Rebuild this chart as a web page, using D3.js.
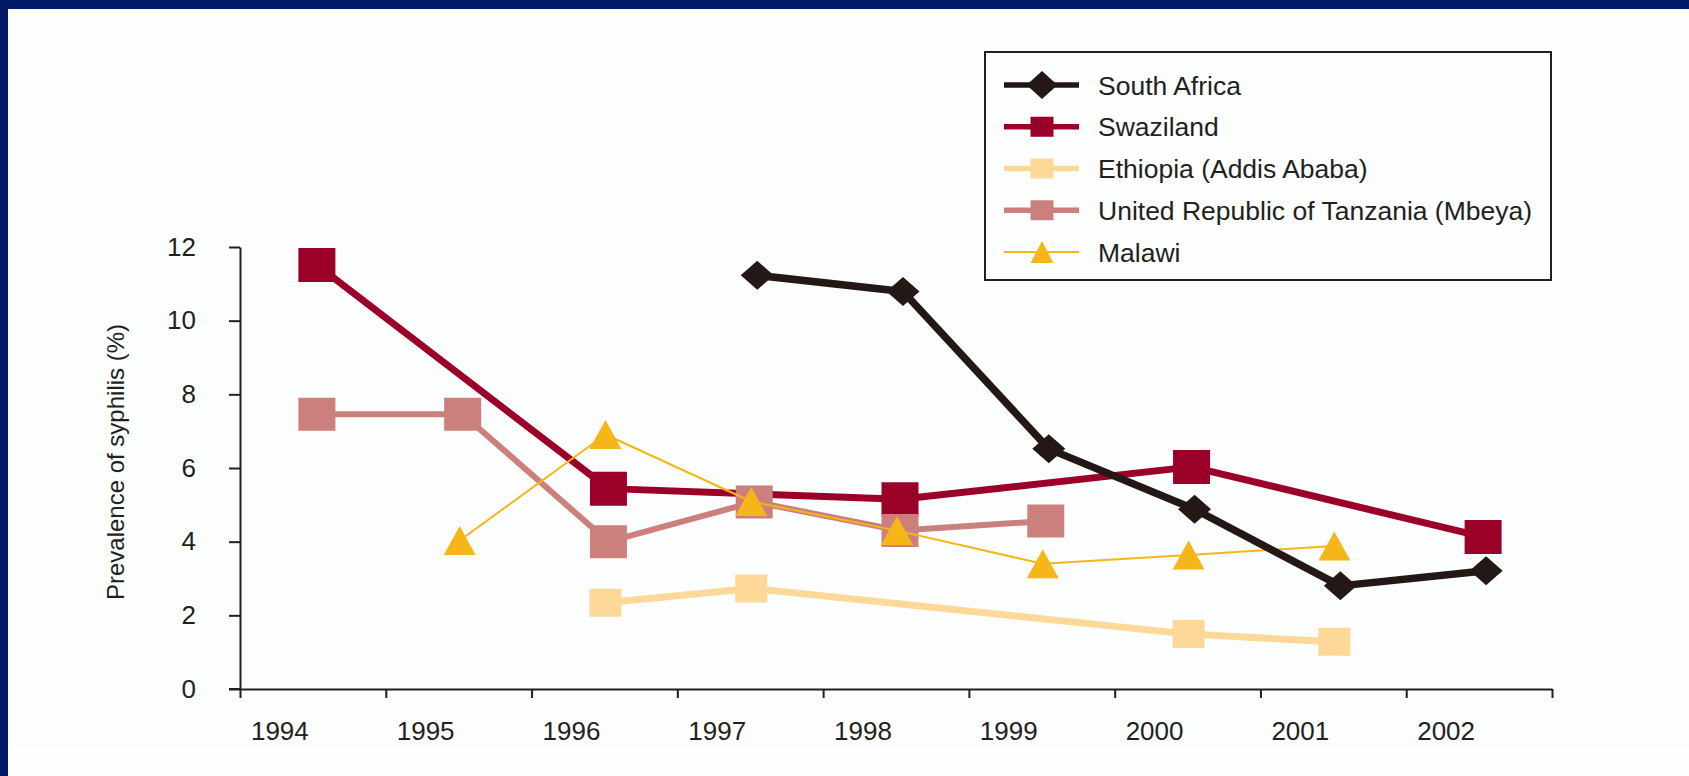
<!DOCTYPE html>
<html>
<head>
<meta charset="utf-8">
<script src="https://cdn.jsdelivr.net/npm/d3@7"></script>
<style>
  html, body { margin: 0; padding: 0; background: #ffffff; }
  svg { display: block; }
  text { font-family: "Liberation Sans", Arial, sans-serif; fill: #231f20; }
</style>
</head>
<body>
<svg id="chart" width="1689" height="776"></svg>
<script>
// Antenatal syphilis prevalence (%), by year
const years = [1994, 1995, 1996, 1997, 1998, 1999, 2000, 2001, 2002];
const southAfrica = [null, null, null, 11.23, 10.79, 6.52, 4.88, 2.80, 3.21];
const swaziland   = [11.51, null, 5.44, null, 5.15, null, 6.03, null, 4.13];
const ethiopia    = [null, null, 2.34, 2.73, null, null, 1.49, 1.28, null];
const tanzania    = [7.46, 7.46, 4.00, 5.08, 4.30, 4.56, null, null, null];
const malawi      = [null, 4.03, 6.91, 5.09, 4.30, 3.40, 3.64, 3.88, null];

const seriesNames = [
  "South Africa",
  "Swaziland",
  "Ethiopia (Addis Ababa)",
  "United Republic of Tanzania (Mbeya)",
  "Malawi"
];
const yTicks = [0, 2, 4, 6, 8, 10, 12];
const yTitle = "Prevalence of syphilis (%)";

// Visual styling per series (same order as seriesNames)
const styles = [
  { values: southAfrica, color: "#231815", width: 7.5, shape: "diamond",  mw: 33, mh: 29, dx: 7, lw: 31, lh: 28, legendLine: 5.5 },
  { values: swaziland,   color: "#9b0028", width: 7,   shape: "square",   mw: 37, mh: 34, dx: 4, lw: 23, lh: 20, legendLine: 5.5 },
  { values: ethiopia,    color: "#fcd998", width: 7,   shape: "square",   mw: 32, mh: 28, dx: 1, lw: 23, lh: 20, legendLine: 5.5 },
  { values: tanzania,    color: "#cc807e", width: 6,   shape: "square",   mw: 37, mh: 33, dx: 4, lw: 23, lh: 20, legendLine: 5.5 },
  { values: malawi,      color: "#f5b619", width: 2,   shape: "triangle", mw: 32, mh: 29, dx: 1, lw: 23, lh: 22, legendLine: 2 }
];
// Stacking order of the series, bottom first
const drawOrder = [2, 1, 3, 4, 0];

const W = 1689, H = 776;
const svg = d3.select("#chart");

// Page background and frame
svg.append("rect").attr("x", 0).attr("y", 0).attr("width", W).attr("height", H).attr("fill", "#fefefe");
svg.append("rect").attr("x", 0).attr("y", 0).attr("width", W).attr("height", 747).attr("fill", "#fcfdfd");
svg.append("rect").attr("x", 0).attr("y", 0).attr("width", W).attr("height", 9).attr("fill", "#001966");
svg.append("rect").attr("x", 0).attr("y", 0).attr("width", 8).attr("height", H).attr("fill", "#001966");

// Scales
const plotLeft = 240, plotRight = 1552, plotTop = 247, plotBottom = 689;
const x = d3.scaleBand().domain(years).range([plotLeft, plotRight]).padding(0);
const xEdges = d3.scaleLinear().domain([years[0], years[years.length - 1] + 1]).range([plotLeft, plotRight]);
const y = d3.scaleLinear().domain([0, 12]).range([plotBottom, plotTop]);
const cx = (yr, dx) => x(yr) + x.bandwidth() / 2 + dx;

// Y axis
const yAxis = svg.append("g")
  .attr("transform", `translate(${plotLeft},0)`)
  .call(d3.axisLeft(y).tickValues(yTicks).tickSize(11).tickSizeOuter(0).tickPadding(33));
yAxis.select(".domain").attr("stroke", "#231f20").attr("stroke-width", 2);
yAxis.selectAll(".tick line").attr("stroke", "#231f20").attr("stroke-width", 2);
yAxis.selectAll(".tick text").attr("font-size", 26).attr("font-family", "Liberation Sans, Arial, sans-serif").attr("fill", "#231f20");

// X axis: tick marks on the year boundaries
const xAxis = svg.append("g")
  .attr("transform", `translate(0,${plotBottom})`)
  .call(d3.axisBottom(xEdges).tickValues(d3.range(years[0], years[years.length - 1] + 2)).tickSize(9).tickSizeOuter(0).tickFormat(""));
xAxis.select(".domain").attr("stroke", "#231f20").attr("stroke-width", 2);
xAxis.selectAll(".tick line").attr("stroke", "#231f20").attr("stroke-width", 2);
svg.append("line")
  .attr("x1", plotLeft - 11).attr("x2", plotLeft)
  .attr("y1", plotBottom).attr("y2", plotBottom)
  .attr("stroke", "#231f20").attr("stroke-width", 2);

// X labels, set a little left of each year's centre
svg.append("g").selectAll("text").data(years).join("text")
  .attr("x", d => x(d) + x.bandwidth() / 2 - 33)
  .attr("y", 740)
  .attr("text-anchor", "middle")
  .attr("font-size", 26)
  .text(d => d);

// Y title
svg.append("text")
  .attr("transform", `translate(124,462) rotate(-90)`)
  .attr("text-anchor", "middle")
  .attr("font-size", 24)
  .text(yTitle);

// Marker path builder
function markerPath(shape, w, h) {
  const hw = w / 2, hh = h / 2;
  if (shape === "diamond") return `M0,${-hh}L${hw},0L0,${hh}L${-hw},0Z`;
  if (shape === "triangle") return `M0,${-hh}L${hw},${hh}L${-hw},${hh}Z`;
  return `M${-hw},${-hh}H${hw}V${hh}H${-hw}Z`;
}

// Series lines and markers
const plot = svg.append("g");
drawOrder.forEach(i => {
  const s = styles[i];
  const pts = years.map((yr, k) => ({ yr, v: s.values[k] })).filter(p => p.v !== null);
  const line = d3.line().x(p => cx(p.yr, s.dx)).y(p => y(p.v));
  const g = plot.append("g");
  g.append("path")
    .attr("d", line(pts))
    .attr("fill", "none")
    .attr("stroke", s.color)
    .attr("stroke-width", s.width)
    .attr("stroke-linejoin", "round");
  g.selectAll("path.m").data(pts).join("path")
    .attr("class", "m")
    .attr("transform", p => `translate(${cx(p.yr, s.dx)},${y(p.v)})`)
    .attr("d", markerPath(s.shape, s.mw, s.mh))
    .attr("fill", s.color);
});

// Legend
const legend = svg.append("g");
legend.append("rect")
  .attr("x", 985).attr("y", 52).attr("width", 566).attr("height", 228)
  .attr("fill", "#fcfdfd").attr("stroke", "#231f20").attr("stroke-width", 2);
const rowY = d3.scaleLinear().domain([0, 4]).range([85, 252]);
seriesNames.forEach((name, i) => {
  const s = styles[i];
  const ry = rowY(i);
  legend.append("line")
    .attr("x1", 1004).attr("x2", 1079).attr("y1", ry).attr("y2", ry)
    .attr("stroke", s.color).attr("stroke-width", s.legendLine);
  legend.append("path")
    .attr("transform", `translate(1042,${ry})`)
    .attr("d", markerPath(s.shape, s.lw, s.lh))
    .attr("fill", s.color);
  legend.append("text")
    .attr("x", 1098).attr("y", ry).attr("dy", "0.36em")
    .attr("font-size", 26.5)
    .text(name);
});
</script>
</body>
</html>
